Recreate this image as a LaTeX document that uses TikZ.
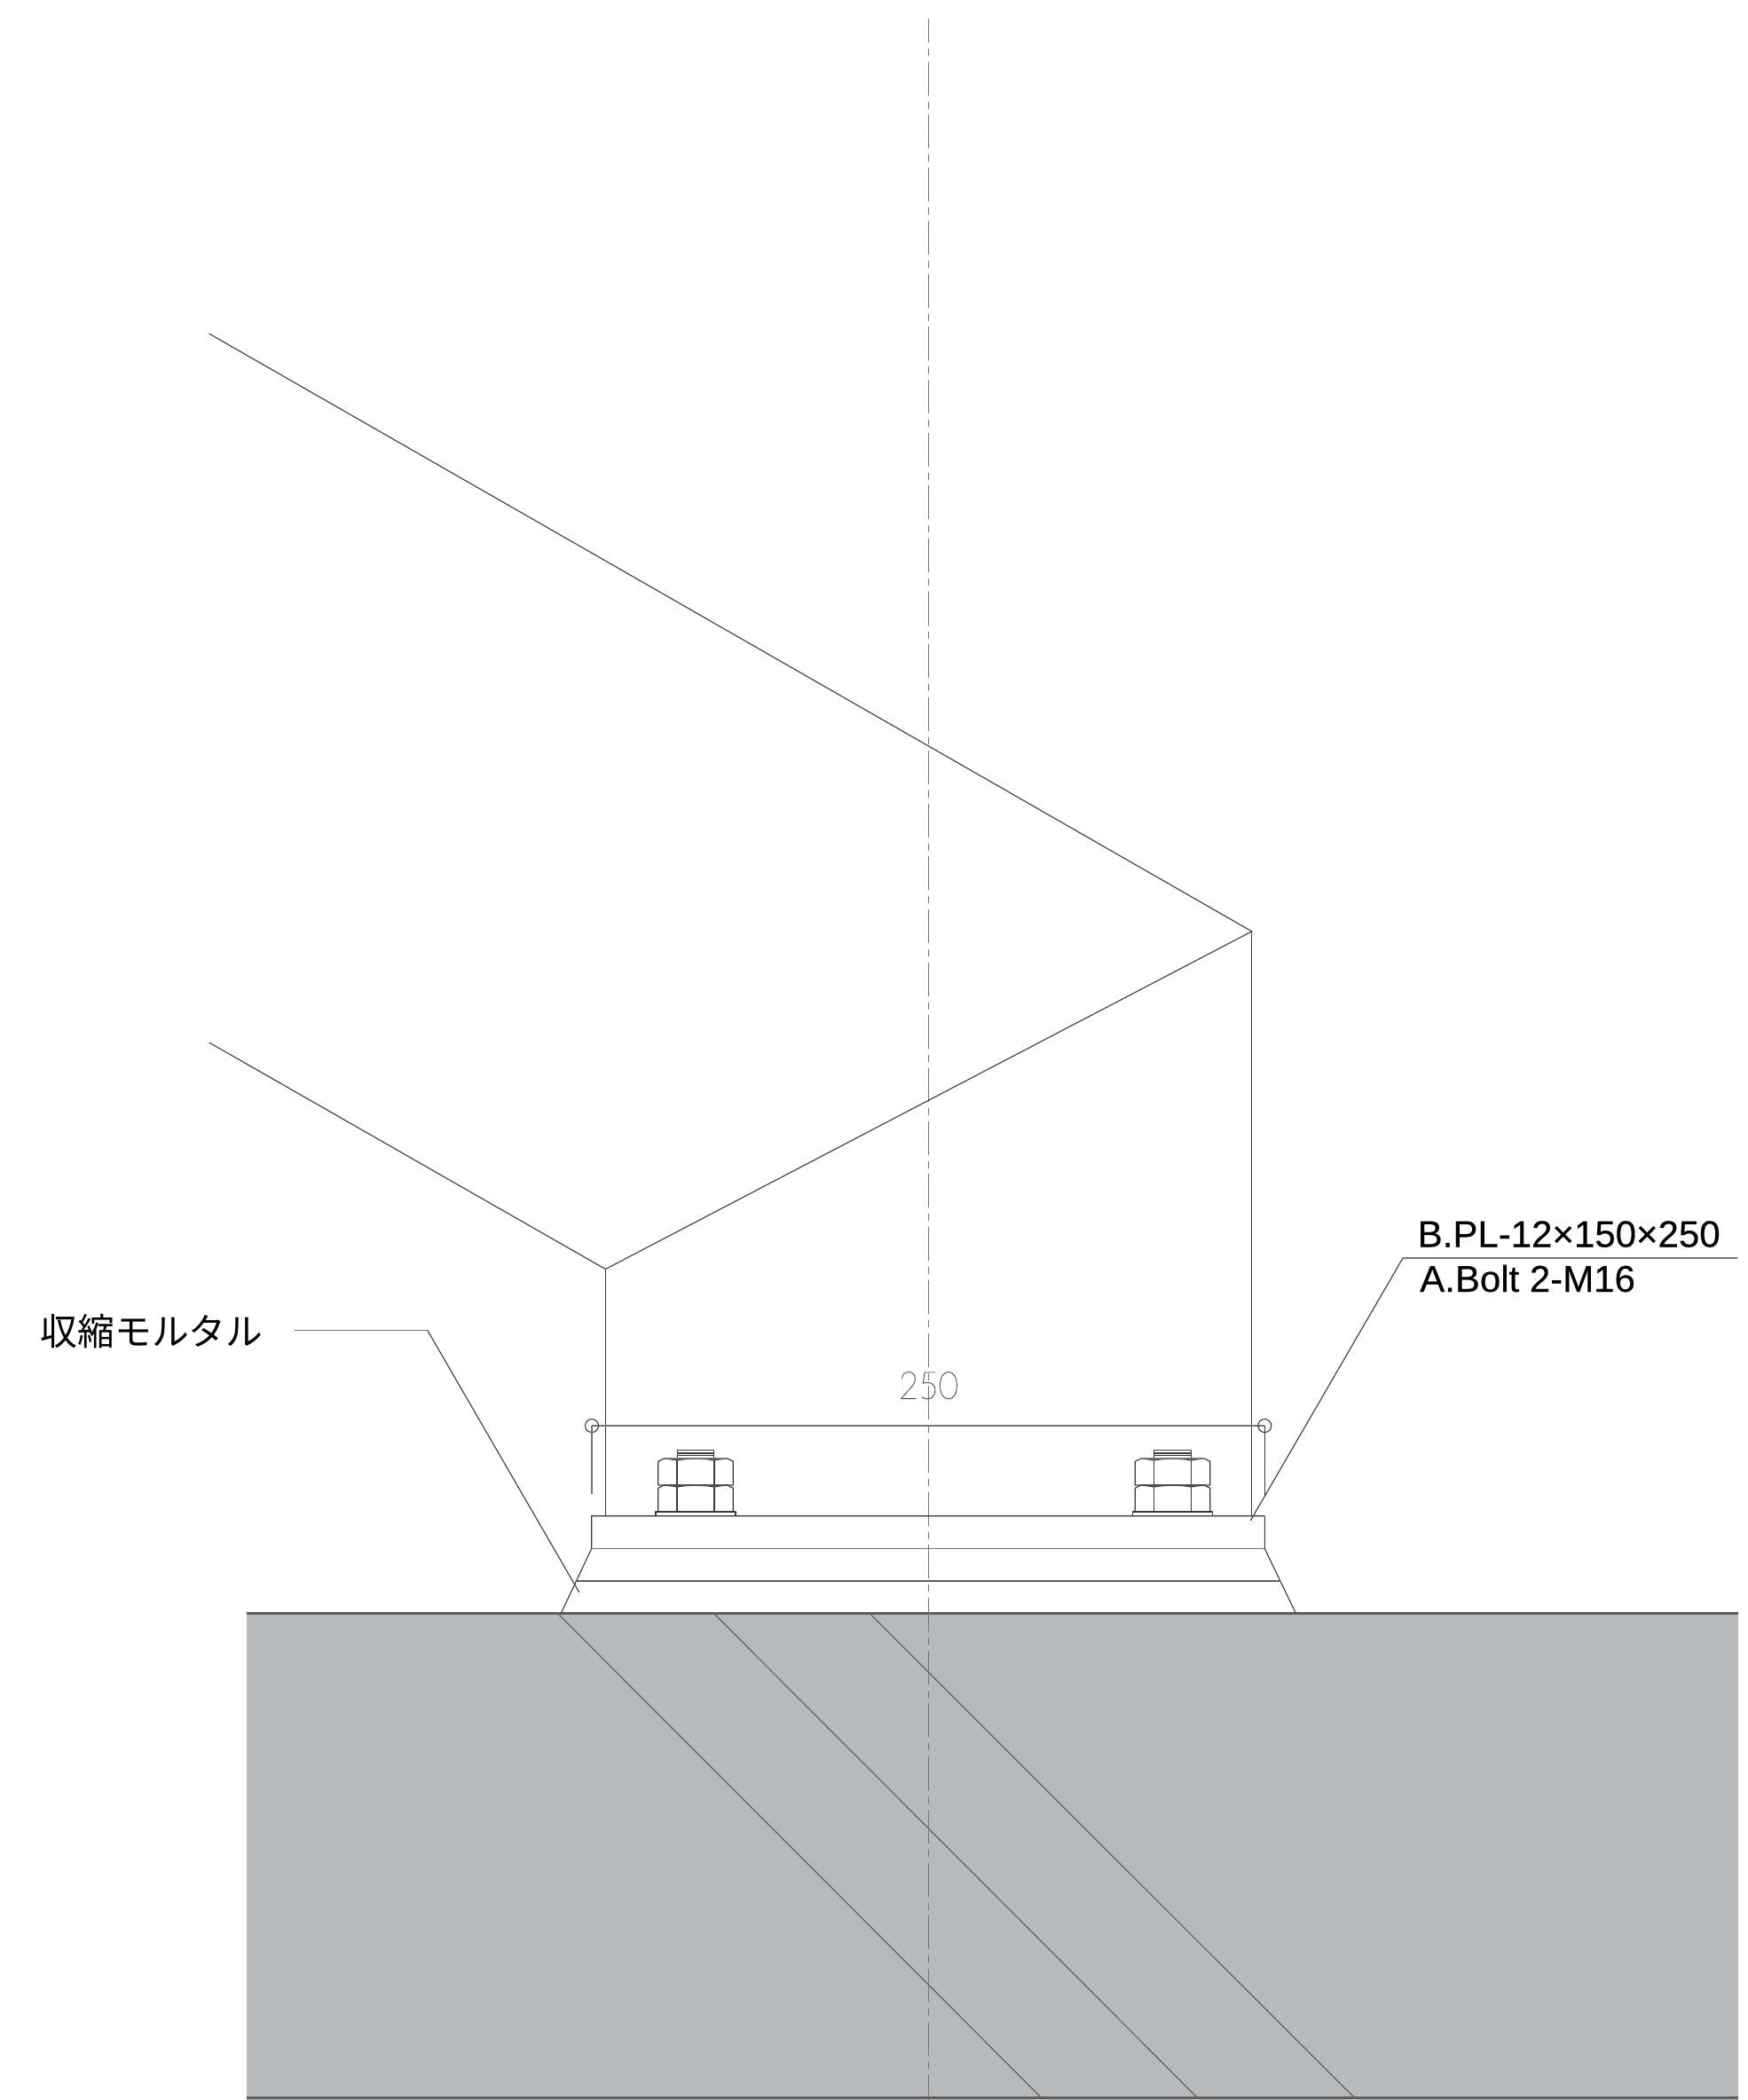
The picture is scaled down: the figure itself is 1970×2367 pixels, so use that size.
\documentclass[tikz,border=0pt]{standalone}
\usepackage{fontspec}
\setmainfont{Liberation Sans}[FakeBold=0.25]
\newfontfamily\labelfont{Liberation Sans}[FakeBold=0.35]
\newfontfamily\jpfont{Noto Sans CJK JP}
\newfontfamily\thinfont{Lato Hairline}[FakeBold=0.3,FakeStretch=0.9]
\definecolor{concrete}{HTML}{B8B9BB}
\definecolor{ink}{HTML}{3A3A3A}
\definecolor{midgrey}{HTML}{757575}
\definecolor{gridline}{HTML}{5F5F5F}
\tikzset{
  outline/.style={draw=ink,line width=1.1pt},
  greyline/.style={draw=midgrey,line width=1.6pt},
  groundline/.style={draw=gridline,line width=2.6pt},
  reinf/.style={draw=gridline,line width=1.2pt},
  centreline/.style={draw=midgrey,line width=1.1pt,dash pattern=on 38pt off 7pt on 8pt off 6.7pt,dash phase=11pt},
  nutline/.style={draw=ink,line width=1.2pt,line join=round},
  labeltext/.style={inner sep=0pt,anchor=base west,text=black,font=\fontsize{42}{42}\selectfont\labelfont},
}
% one nut: #1 = centre x, #2 = y of its top line, #3 = y of its bottom
\newcommand{\nutbody}[3]{%
  \draw[nutline] (#1-42.3,#2+3.3) -- (#1-35.7,#2) .. controls (#1-31,#2+0.5) and (#1-25,#2+1) .. (#1-21,#2+2)
    .. controls (#1-12,#2-0.3) and (#1+12,#2-0.3) .. (#1+21,#2+2)
    .. controls (#1+25,#2+1) and (#1+31,#2+0.5) .. (#1+35.7,#2) -- (#1+42.3,#2+3.3) -- (#1+42.3,#3) -- (#1-42.3,#3) -- cycle;
  \draw[nutline,draw=midgrey] (#1-35.7,#2) -- (#1+35.7,#2);
  \draw[nutline] (#1-21,#2+2) -- (#1-21,#3);
  \draw[nutline] (#1+21,#2+2) -- (#1+21,#3);
}
\newcommand{\boltset}[1]{%
  \draw[nutline] (#1-45,1708.7) rectangle (#1+45,1704);
  \nutbody{#1}{1674}{1704}
  \nutbody{#1}{1644}{1674}
  \draw[nutline] (#1-20.7,1644) -- (#1-20.7,1634.3) -- (#1+20.7,1634.3) -- (#1+20.7,1644);
  \draw[nutline] (#1-20.7,1638) -- (#1+20.7,1638);
  \draw[nutline] (#1-20.7,1640.7) -- (#1+20.7,1640.7);
}
\begin{document}
\begin{tikzpicture}[x=1pt,y=-1pt]
\useasboundingbox (0,0) rectangle (1970,2367);
% concrete
\fill[concrete] (278,1818.3) rectangle (1958.8,2367);
\coordinate (gl) at (278,1818.3);
\coordinate (gr) at (1958.5,1818.3);
\coordinate (bl) at (278,2364.3);
\coordinate (br) at (1958.5,2364.3);
\draw[groundline] (gl) -- (gr);
\draw[groundline] (bl) -- (br);
% reinforcement
\draw[reinf] (628.3,1818.3) -- (1173,2364);
\draw[reinf] (804.3,1818.3) -- (1349,2364);
\draw[reinf] (980,1818.3) -- (1526,2364);
% centre line
\draw[centreline] (1046.5,21) -- (1046.5,2367);
% roof
\coordinate (roofA) at (235.6,376);
\coordinate (roofB) at (1410.8,1049.8);
\coordinate (roofC) at (235.6,1175);
\coordinate (roofD) at (682.4,1430.5);
\draw[outline] (roofA) -- (roofB) -- (roofD) -- (roofC);
\draw[outline] (roofD) -- (682.4,1708.7);
\draw[outline] (roofB) -- (1410.8,1708.7);
% base plate and mortar
\draw[outline] (1425.3,1708.7) -- (666.7,1708.7) -- (666.7,1745.5) -- (632.3,1818.3);
\draw[outline] (1425.3,1708.7) -- (1425.3,1745.5) -- (1460.3,1818.3);
\draw[greyline] (666.7,1745.5) -- (1425.3,1745.5);
\draw[reinf] (649.3,1782) -- (1442.7,1782);
% bolts
\boltset{784}
\boltset{1321.5}
% dimension
\coordinate (dimL) at (667,1607);
\coordinate (dimR) at (1425.3,1607);
\draw[greyline] (dimL) -- (dimR);
\draw[outline] (dimL) circle (7.5pt);
\draw[outline] (dimR) circle (7.5pt);
\draw[greyline] (dimL) -- (667,1684.3);
\draw[outline] (dimR) -- (1425.3,1685);
\node[inner sep=0pt,anchor=base,text=ink] (dimtext) at (1046.5,1576.7) {\fontsize{43}{44}\selectfont\thinfont 250};
% labels
\node[labeltext] (bpl) at (1597.5,1405.5) {B.PL-12×150×250};
\node[labeltext] (abolt) at (1600,1456) {A.Bolt 2-M16};
\node[labeltext,font=\fontsize{41.8}{42}\selectfont\jpfont] (mortar) at (45.5,1516) {収縮モルタル};
% leaders
\coordinate (lr1) at (1409.3,1714);
\coordinate (lr2) at (1581,1418);
\coordinate (lr3) at (1958,1418);
\draw[outline] (lr1) -- (lr2);
\draw[greyline] (lr2) -- (lr3);
\coordinate (ll1) at (331.7,1499.3);
\coordinate (ll2) at (481.7,1499.3);
\coordinate (ll3) at (652.7,1794.7);
\draw[greyline] (ll1) -- (ll2);
\draw[outline] (ll2) -- (ll3);
\end{tikzpicture}
\end{document}
